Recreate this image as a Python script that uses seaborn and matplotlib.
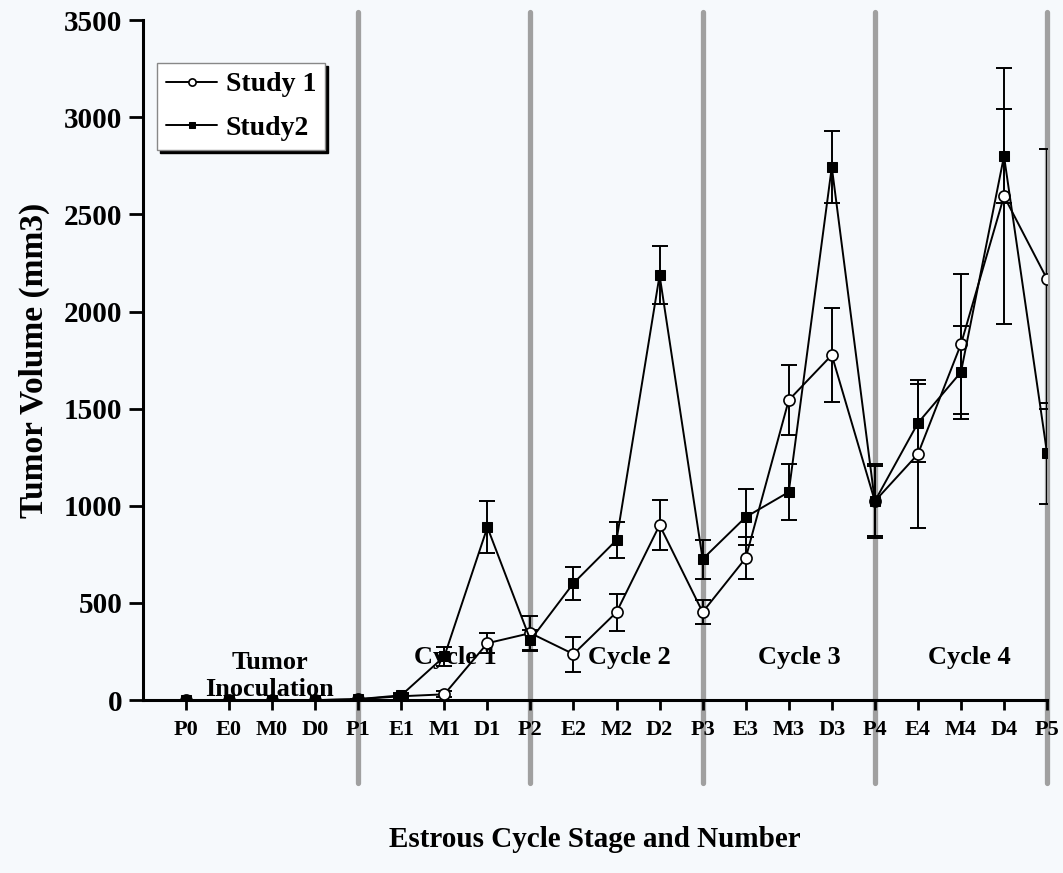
import numpy as np
import matplotlib
matplotlib.use("Agg")
import matplotlib.pyplot as plt
import seaborn as sns

stages = ['P0', 'E0', 'M0', 'D0', 'P1', 'E1', 'M1', 'D1', 'P2', 'E2', 'M2',
          'D2', 'P3', 'E3', 'M3', 'D3', 'P4', 'E4', 'M4', 'D4', 'P5']
study1 = [0, 0, 0, 0, 5, 20, 30, 293, 345, 237, 453, 901, 453, 731, 1544,
          1776, 1024, 1266, 1832, 2594, 2167]
study1_err = [0, 0, 0, 0, 0, 10, 15, 50, 90, 90, 95, 130, 60, 110, 180,
              240, 190, 380, 360, 660, 670]
study2 = [0, 0, 0, 0, 5, 25, 225, 890, 309, 602, 824, 2187, 726, 942, 1071,
          2744, 1024, 1426, 1688, 2800, 1271]
study2_err = [0, 0, 0, 0, 0, 10, 50, 135, 50, 85, 95, 150, 100, 145, 145,
              185, 180, 200, 240, 240, 260]

# period labels and where they sit (stage index, baseline value)
period_labels = ['Tumor\nInoculation', 'Cycle 1', 'Cycle 2', 'Cycle 3', 'Cycle 4']
period_x = [1.95, 6.25, 10.3, 14.25, 18.2]
period_y = [22, 185, 185, 185, 185]

sns.set_style("white")
plt.rcParams['font.family'] = ['Liberation Serif', 'DejaVu Serif']
plt.rcParams['font.weight'] = 'bold'
for k in ['text.color', 'axes.labelcolor', 'xtick.color', 'ytick.color']:
    plt.rcParams[k] = 'black'

fig = plt.figure(figsize=(10.63, 8.73), dpi=100)
fig.patch.set_facecolor('#f6f9fc')
ax = fig.add_axes([0.1345, 0.198, 0.8505, 0.779])
ax.set_facecolor('none')

x = np.arange(len(stages))

# grey dividers at the start of each cycle (proestrus stages)
for i, s in enumerate(stages):
    if s.startswith('P') and s != 'P0':
        ax.axvline(i, ymin=-0.122, ymax=1.012, color='#a0a0a0', lw=3.8,
                   clip_on=False, zorder=0)

ax.errorbar(x, study1, yerr=study1_err, fmt='none', ecolor='black',
            elinewidth=1.4, capsize=6, capthick=1.4, zorder=2)
ax.errorbar(x, study2, yerr=study2_err, fmt='none', ecolor='black',
            elinewidth=1.4, capsize=6, capthick=1.4, zorder=2)

sns.lineplot(x=x, y=study1, ax=ax, color='black', lw=1.4, marker='o',
             markersize=8, markerfacecolor='white', markeredgecolor='black',
             markeredgewidth=1.2, label='Study 1', zorder=3)
sns.lineplot(x=x, y=study2, ax=ax, color='black', lw=1.4, marker='s',
             markersize=6.5, markerfacecolor='black', markeredgecolor='black',
             label='Study2', zorder=4)

for t, px, py in zip(period_labels, period_x, period_y):
    ax.text(px, py, t, ha='center', va='baseline', fontsize=19,
            fontweight='bold', linespacing=1.2, zorder=5)

ax.set_xlim(-1, len(stages) - 1)
ax.set_ylim(0, 3500)
ax.set_xticks(x)
ax.set_xticklabels(stages, fontsize=16, fontweight='bold')
ax.set_yticks(np.arange(0, 3501, 500))
ax.set_yticklabels([str(v) for v in range(0, 3501, 500)], fontsize=21,
                   fontweight='bold')
ax.tick_params(axis='y', direction='out', length=10, width=2, pad=5, left=True)
ax.tick_params(axis='x', direction='out', length=7, width=2, pad=7, bottom=True)

for side in ['top', 'right']:
    ax.spines[side].set_visible(False)
for side in ['left', 'bottom']:
    ax.spines[side].set_linewidth(2.2)
    ax.spines[side].set_color('black')

ax.set_ylabel('Tumor Volume (mm3)', fontsize=24, fontweight='bold', labelpad=10)
ax.set_xlabel('Estrous Cycle Stage and Number', fontsize=21, fontweight='bold',
              labelpad=62)

leg = ax.legend(loc='upper left', bbox_to_anchor=(0.0155, 0.937), fontsize=20,
                frameon=True, fancybox=False, shadow={'color': 'black', 'alpha': 1},
                handlelength=1.85, handletextpad=0.3, borderpad=0.32,
                labelspacing=0.66, borderaxespad=0, markerscale=0.65)
leg.get_frame().set_edgecolor('#888888')
leg.get_frame().set_linewidth(1)
leg.get_frame().set_facecolor('white')
for t in leg.get_texts():
    t.set_fontweight('bold')

fig.savefig('out.png', dpi=100, facecolor=fig.get_facecolor())
